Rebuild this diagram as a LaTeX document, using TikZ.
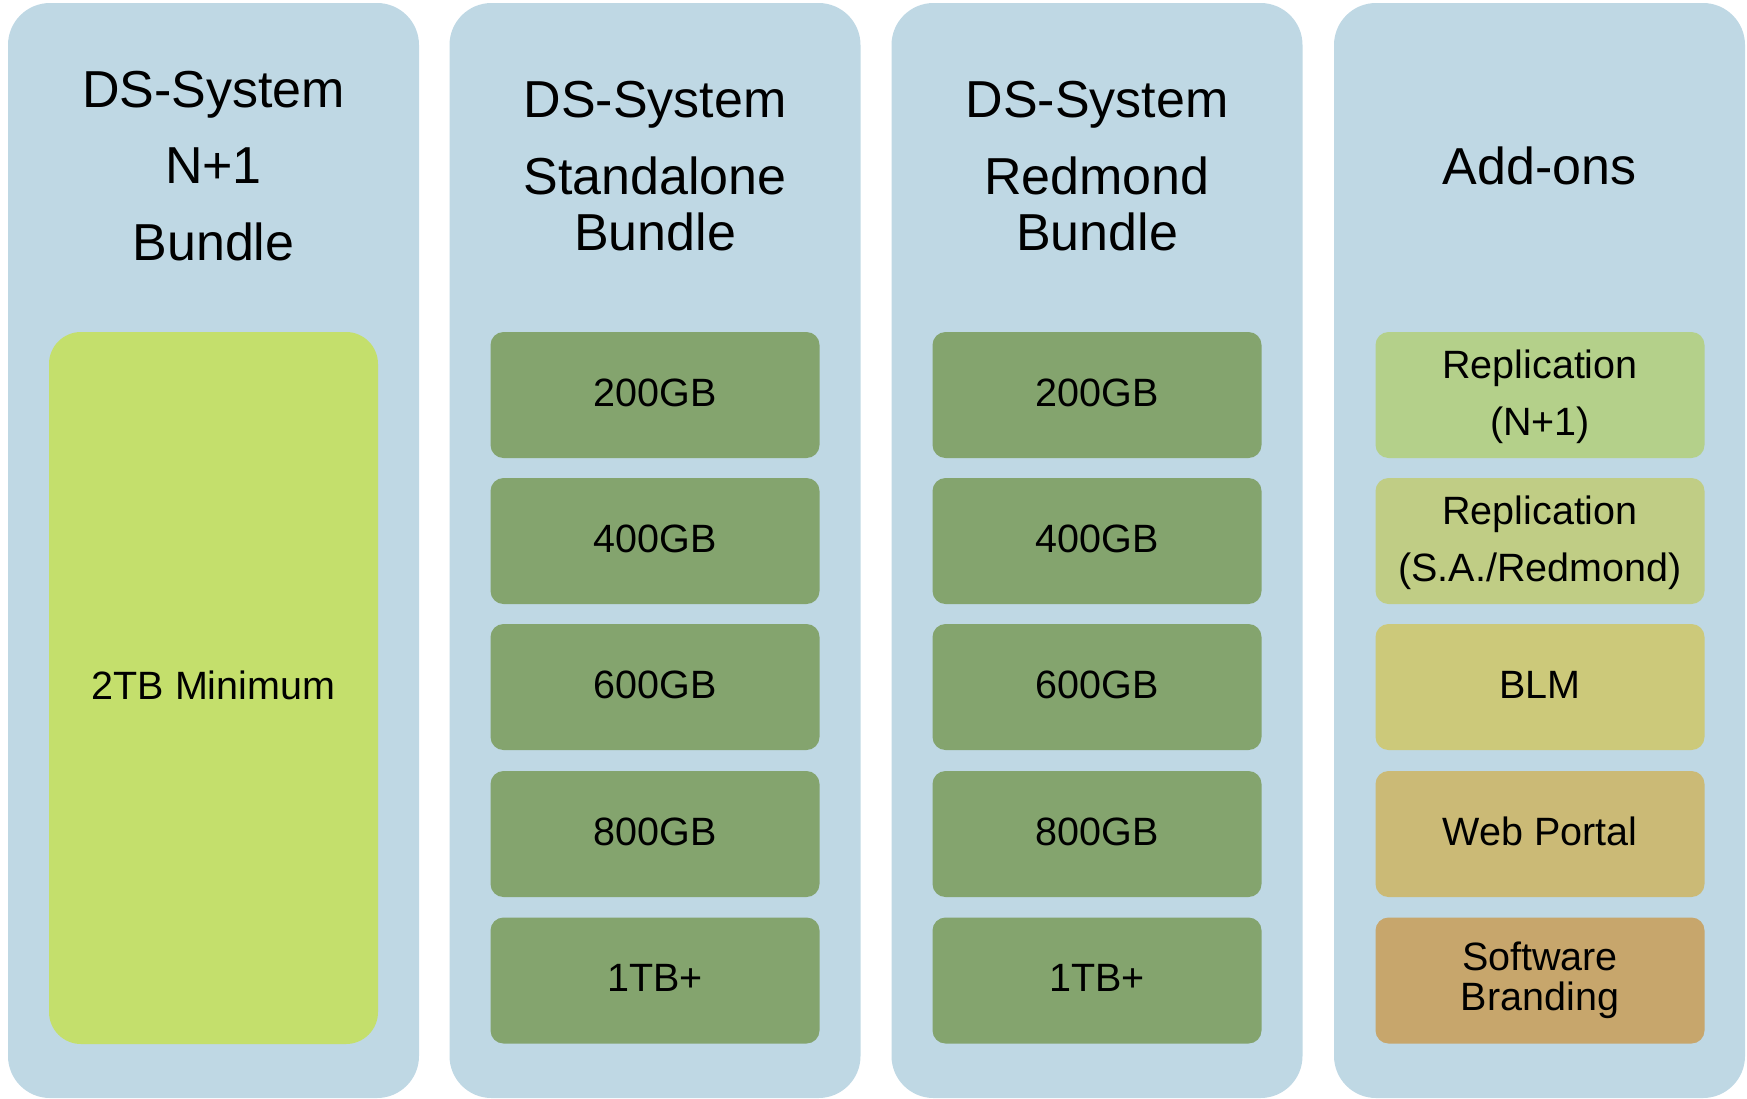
\documentclass[tikz,border=0pt]{standalone}
\usepackage{fontspec}
\setmainfont{Liberation Sans}
\definecolor{colblue}{HTML}{BFD8E4}
\definecolor{dkgreen}{HTML}{84A46E}
\definecolor{lime}{HTML}{C4DF6C}
\definecolor{repA}{HTML}{B4D08A}
\definecolor{repB}{HTML}{C0CD85}
\definecolor{blmc}{HTML}{CCC97A}
\definecolor{webc}{HTML}{CBBA76}
\definecolor{brandc}{HTML}{C7A66C}
\begin{document}
\begin{tikzpicture}[x=1pt,y=-1pt,
  col/.style={fill=colblue, draw=none, rounded corners=42pt, minimum width=411pt, minimum height=1095pt, inner sep=0pt},
  sbox/.style={draw=none, rounded corners=13pt, minimum width=329pt, minimum height=126pt, inner sep=0pt, align=center, font=\fontsize{39.5}{57}\selectfont},
  one/.style={text depth=5pt},
  head/.style={align=center, inner sep=0pt, font=\fontsize{52}{76.5}\selectfont}]
\useasboundingbox (0,0) rectangle (1747,1098);
% columns
\node[col] (c1) at (213.5,550.5) {};
\node[col] (c2) at (655,550.5) {};
\node[col] (c3) at (1097,550.5) {};
\node[col] (c4) at (1539.5,550.5) {};
% headings
\node[head] (h1) at (213.5,166) {DS-System\\N+1\\Bundle};
\node[head] (h2) at (655,166.5) {DS-System\\Standalone\\[-20pt]Bundle};
\node[head] (h3) at (1097,166.5) {DS-System\\Redmond\\[-20pt]Bundle};
\node[head] (h4) at (1539.5,165.5) {Add-ons};
% column 1
\node[sbox, one, fill=lime, rounded corners=32pt, minimum height=712pt] (n1) at (213.5,688) {2TB Minimum};
% column 2
\node[sbox, one, fill=dkgreen] (s1) at (655,395) {200GB};
\node[sbox, one, fill=dkgreen] (s2) at (655,541) {400GB};
\node[sbox, one, fill=dkgreen] (s3) at (655,687) {600GB};
\node[sbox, one, fill=dkgreen] (s4) at (655,834) {800GB};
\node[sbox, one, fill=dkgreen] (s5) at (655,980.5) {1TB+};
% column 3
\node[sbox, one, fill=dkgreen] (r1) at (1097,395) {200GB};
\node[sbox, one, fill=dkgreen] (r2) at (1097,541) {400GB};
\node[sbox, one, fill=dkgreen] (r3) at (1097,687) {600GB};
\node[sbox, one, fill=dkgreen] (r4) at (1097,834) {800GB};
\node[sbox, one, fill=dkgreen] (r5) at (1097,980.5) {1TB+};
% column 4
\node[sbox, fill=repA, text depth=4pt] (a1) at (1540,395) {Replication\\(N+1)};
\node[sbox, fill=repB, text depth=4pt] (a2) at (1540,541) {Replication\\(S.A./Redmond)};
\node[sbox, one, fill=blmc] (a3) at (1540,687) {BLM};
\node[sbox, one, fill=webc] (a4) at (1540,834) {Web Portal};
\node[sbox, fill=brandc, font=\fontsize{39.5}{40}\selectfont] (a5) at (1540,980.5) {Software\\Branding};
\end{tikzpicture}
\end{document}
